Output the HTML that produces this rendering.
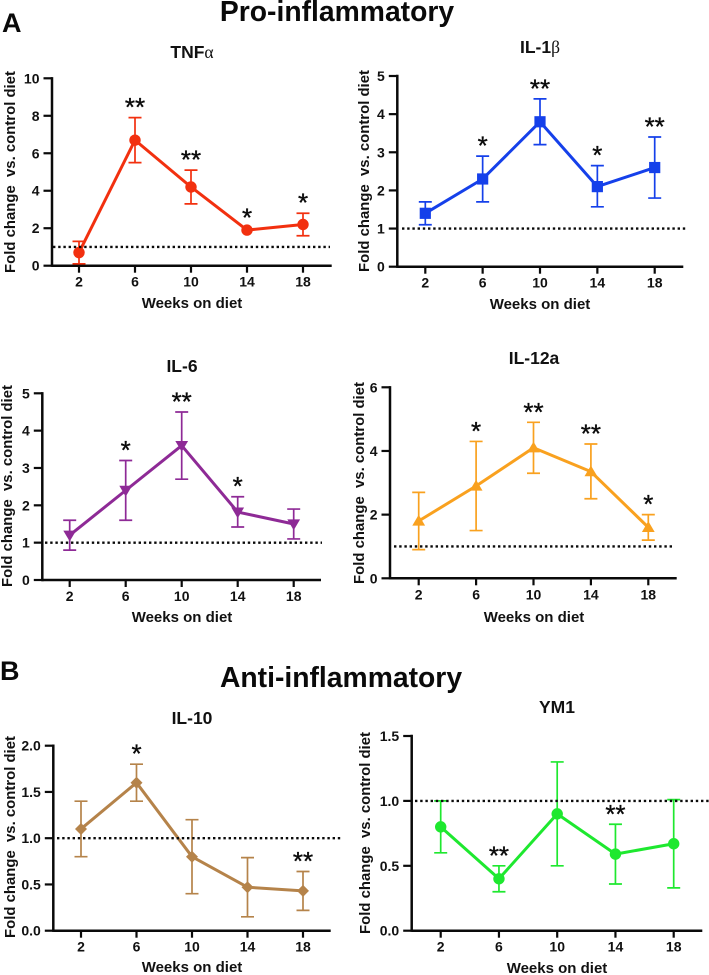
<!DOCTYPE html>
<html lang="en">
<head>
<meta charset="utf-8">
<title>Pro- and anti-inflammatory cytokines</title>
<style>
html,body{margin:0;padding:0;background:#fff;width:709px;height:975px;overflow:hidden}
svg{display:block;font-family:"Liberation Sans",Arial,sans-serif;fill:#111;filter:blur(0.3px)}
</style>
</head>
<body>
<svg id="figure" xmlns="http://www.w3.org/2000/svg" width="709" height="975" viewBox="0 0 709 975">
  <text x="2" y="32" font-size="27" font-weight="700" fill="#0a0a0a">A</text>
  <text x="0" y="680" font-size="27" font-weight="700" fill="#0a0a0a">B</text>
  <text x="337" y="21" font-size="28.3" font-weight="700" text-anchor="middle" fill="#0a0a0a">Pro-inflammatory</text>
  <text x="341" y="687" font-size="28.3" font-weight="700" text-anchor="middle" fill="#0a0a0a">Anti-inflammatory</text>
</svg>
<script>
const weeks = [2, 6, 10, 14, 18];

const tnfValues = [0.7, 6.7, 4.2, 1.9, 2.2];
const tnfUpper = [1.3, 7.9, 5.1, 1.9, 2.8];
const tnfLower = [0.1, 5.5, 3.3, 1.9, 1.6];
const tnfStars = ['', '**', '**', '*', '*'];
const tnfTicks = ['0', '2', '4', '6', '8', '10'];

const il1bValues = [1.4, 2.3, 3.8, 2.1, 2.6];
const il1bUpper = [1.7, 2.9, 4.4, 2.65, 3.4];
const il1bLower = [1.1, 1.7, 3.2, 1.57, 1.8];
const il1bStars = ['', '*', '**', '*', '**'];
const il1bTicks = ['0', '1', '2', '3', '4', '5'];

const il6Values = [1.2, 2.4, 3.6, 1.82, 1.5];
const il6Upper = [1.6, 3.2, 4.5, 2.23, 1.9];
const il6Lower = [0.8, 1.6, 2.7, 1.42, 1.1];
const il6Stars = ['', '*', '**', '*', ''];
const il6Ticks = ['0', '1', '2', '3', '4', '5'];

const il12Values = [1.8, 2.9, 4.1, 3.35, 1.6];
const il12Upper = [2.7, 4.3, 4.9, 4.22, 2.0];
const il12Lower = [0.9, 1.5, 3.3, 2.5, 1.2];
const il12Stars = ['', '*', '**', '**', '*'];
const il12Ticks = ['0', '2', '4', '6'];

const il10Values = [1.1, 1.6, 0.8, 0.47, 0.43];
const il10Upper = [1.4, 1.8, 1.2, 0.79, 0.64];
const il10Lower = [0.8, 1.4, 0.4, 0.15, 0.22];
const il10Stars = ['', '*', '', '', '**'];
const il10Ticks = ['0.0', '0.5', '1.0', '1.5', '2.0'];

const ym1Values = [0.8, 0.4, 0.9, 0.59, 0.67];
const ym1Upper = [1.0, 0.5, 1.3, 0.82, 1.01];
const ym1Lower = [0.6, 0.3, 0.5, 0.36, 0.33];
const ym1Stars = ['', '**', '', '**', ''];
const ym1Ticks = ['0.0', '0.5', '1.0', '1.5'];

const referenceLevel = 1;

const panels = [
  { key: 'tnf-alpha', title: 'TNF', greek: 'α', values: tnfValues, upper: tnfUpper, lower: tnfLower, stars: tnfStars, ticks: tnfTicks,
    color: '#f2300f', marker: 'circle', axisX: 52, axisEnd: 331.7, y0: 265.7, yTop: 78.3, x2: 79, x18: 303, dotFrom: 53, dotTo: 330,
    titleX: 192, titleY: 58, xLabelX: 192, xLabelY: 308, yLabelX: 15, yLabelY: 172 },
  { key: 'il-1-beta', title: 'IL-1', greek: 'β', values: il1bValues, upper: il1bUpper, lower: il1bLower, stars: il1bStars, ticks: il1bTicks,
    color: '#1540ea', marker: 'square', axisX: 397.3, axisEnd: 683.3, y0: 266.7, yTop: 76, x2: 425.3, x18: 654.7, dotFrom: 402, dotTo: 687,
    titleX: 540, titleY: 53, xLabelX: 540, xLabelY: 309, yLabelX: 369, yLabelY: 171 },
  { key: 'il-6', title: 'IL-6', greek: '', values: il6Values, upper: il6Upper, lower: il6Lower, stars: il6Stars, ticks: il6Ticks,
    color: '#8e2a96', marker: 'triangle-down', axisX: 42.3, axisEnd: 321, y0: 580, yTop: 393.3, x2: 69.7, x18: 293.7, dotFrom: 45, dotTo: 322,
    titleX: 182, titleY: 372, xLabelX: 182, xLabelY: 622, yLabelX: 12, yLabelY: 486 },
  { key: 'il-12a', title: 'IL-12a', greek: '', values: il12Values, upper: il12Upper, lower: il12Lower, stars: il12Stars, ticks: il12Ticks,
    color: '#f9a11f', marker: 'triangle-up', axisX: 390, axisEnd: 676.7, y0: 578.3, yTop: 387.3, x2: 418.7, x18: 648.3, dotFrom: 394, dotTo: 672,
    titleX: 534, titleY: 364, xLabelX: 534, xLabelY: 622, yLabelX: 364, yLabelY: 483 },
  { key: 'il-10', title: 'IL-10', greek: '', values: il10Values, upper: il10Upper, lower: il10Lower, stars: il10Stars, ticks: il10Ticks,
    color: '#b5834a', marker: 'diamond', axisX: 53.3, axisEnd: 330.7, y0: 930.7, yTop: 745.7, x2: 81, x18: 303, dotFrom: 57, dotTo: 343,
    titleX: 192, titleY: 724, xLabelX: 192, xLabelY: 972, yLabelX: 15, yLabelY: 837 },
  { key: 'ym1', title: 'YM1', greek: '', values: ym1Values, upper: ym1Upper, lower: ym1Lower, stars: ym1Stars, ticks: ym1Ticks,
    color: '#1ee82f', marker: 'circle', axisX: 411.7, axisEnd: 702.3, y0: 930.7, yTop: 736, x2: 440.7, x18: 673.7, dotFrom: 415, dotTo: 709,
    titleX: 557, titleY: 713, xLabelX: 557, xLabelY: 973, yLabelX: 370, yLabelY: 833 }
];

const svgNS = 'http://www.w3.org/2000/svg';
const figure = document.getElementById('figure');

function mk(parent, tag, attrs, text) {
  const el = document.createElementNS(svgNS, tag);
  for (const k in attrs) el.setAttribute(k, attrs[k]);
  if (text !== undefined) el.textContent = text;
  parent.appendChild(el);
  return el;
}

function drawMarker(g, shape, cx, cy, color) {
  if (shape === 'circle') return mk(g, 'circle', { cx: cx, cy: cy, r: 5.7, fill: color });
  if (shape === 'square') return mk(g, 'rect', { x: cx - 5.6, y: cy - 5.6, width: 11.2, height: 11.2, fill: color });
  let pts;
  if (shape === 'triangle-down') pts = [[cx - 6.4, cy - 4.6], [cx + 6.4, cy - 4.6], [cx, cy + 6.2]];
  if (shape === 'triangle-up') pts = [[cx - 6.4, cy + 4.6], [cx + 6.4, cy + 4.6], [cx, cy - 6.2]];
  if (shape === 'diamond') pts = [[cx, cy - 6], [cx + 6, cy], [cx, cy + 6], [cx - 6, cy]];
  return mk(g, 'polygon', { points: pts.map(p => p.join(',')).join(' '), fill: color });
}

panels.forEach(function (p) {
  const tickNums = p.ticks.map(Number);
  const yMax = Math.max.apply(null, tickNums);
  const yScale = v => p.y0 - (v / yMax) * (p.y0 - p.yTop);
  const xScale = w => p.x2 + ((w - weeks[0]) / (weeks[weeks.length - 1] - weeks[0])) * (p.x18 - p.x2);

  const g = mk(figure, 'g', {});
  
  

  const title = mk(g, 'text', { x: p.titleX, y: p.titleY, 'font-size': 17.5, 'font-weight': 700, 'text-anchor': 'middle' }, p.title);
  
  
  if (p.greek) {
    const greek = mk(title, 'tspan', { 'font-family': '"Liberation Serif",serif', 'font-weight': 400 }, p.greek);
    
    
  }

  const yAxis = mk(g, 'line', { x1: p.axisX, x2: p.axisX, y1: p.yTop - 1.2, y2: p.y0 + 1.2, stroke: '#0a0a0a', 'stroke-width': 2.5 });
  
  

  const xAxis = mk(g, 'line', { x1: p.axisX, x2: p.axisEnd, y1: p.y0, y2: p.y0, stroke: '#0a0a0a', 'stroke-width': 2.5 });
  
  

  p.ticks.forEach(function (label, i) {
    const y = yScale(tickNums[i]);
    const tick = mk(g, 'line', { x1: p.axisX - 8.5, x2: p.axisX, y1: y, y2: y, stroke: '#0a0a0a', 'stroke-width': 2.2 });
    
    
    const txt = mk(g, 'text', { x: p.axisX - 12.5, y: y + 5, 'font-size': 14, 'font-weight': 700, 'text-anchor': 'end' }, label);
    
    
  });

  weeks.forEach(function (w) {
    const x = xScale(w);
    const tick = mk(g, 'line', { x1: x, x2: x, y1: p.y0, y2: p.y0 + 7, stroke: '#0a0a0a', 'stroke-width': 2.2 });
    
    
    const txt = mk(g, 'text', { x: x, y: p.y0 + 21, 'font-size': 14, 'font-weight': 700, 'text-anchor': 'middle' }, String(w));
    
    
  });

  const xTitle = mk(g, 'text', { x: p.xLabelX, y: p.xLabelY, 'font-size': 15, 'font-weight': 700, 'text-anchor': 'middle' }, 'Weeks on diet');
  
  

  const yTitle = mk(g, 'text', { x: 0, y: 0, transform: 'translate(' + p.yLabelX + ' ' + p.yLabelY + ') rotate(-90)', 'font-size': 14.9, 'font-weight': 700, 'text-anchor': 'middle' }, 'Fold change\u00a0 vs. control diet');
  
  

  weeks.forEach(function (w, i) {
    if (p.upper[i] === p.lower[i]) return;
    const x = xScale(w);
    const yU = yScale(p.upper[i]);
    const yL = yScale(p.lower[i]);
    const bar = mk(g, 'path', { d: 'M' + (x - 6.5) + ' ' + yU + 'H' + (x + 6.5) + 'M' + x + ' ' + yU + 'V' + yL + 'M' + (x - 6.5) + ' ' + yL + 'H' + (x + 6.5), fill: 'none', stroke: p.color, 'stroke-width': 1.7 });
    
    
  });

  const line = mk(g, 'polyline', { points: weeks.map((w, i) => xScale(w) + ',' + yScale(p.values[i])).join(' '), fill: 'none', stroke: p.color, 'stroke-width': 3, 'stroke-linejoin': 'round' });
  
  

  weeks.forEach(function (w, i) {
    const m = drawMarker(g, p.marker, xScale(w), yScale(p.values[i]), p.color);
    
    
  });

  const refY = yScale(referenceLevel);
  const ref = mk(g, 'line', { x1: p.dotFrom, x2: p.dotTo, y1: refY, y2: refY, stroke: '#0a0a0a', 'stroke-width': 2.4, 'stroke-dasharray': '2.4 2.8' });
  
  

  weeks.forEach(function (w, i) {
    if (!p.stars[i]) return;
    const centerY = Math.min(yScale(p.upper[i]) - 13.5, yScale(p.values[i]) - 15.5);
    const star = mk(g, 'text', { x: xScale(w), y: centerY + 12, 'font-size': 26, 'text-anchor': 'middle', fill: '#0a0a0a', stroke: '#0a0a0a', 'stroke-width': 0.35 }, p.stars[i]);
    
    
  });
});
</script>
</body>
</html>
